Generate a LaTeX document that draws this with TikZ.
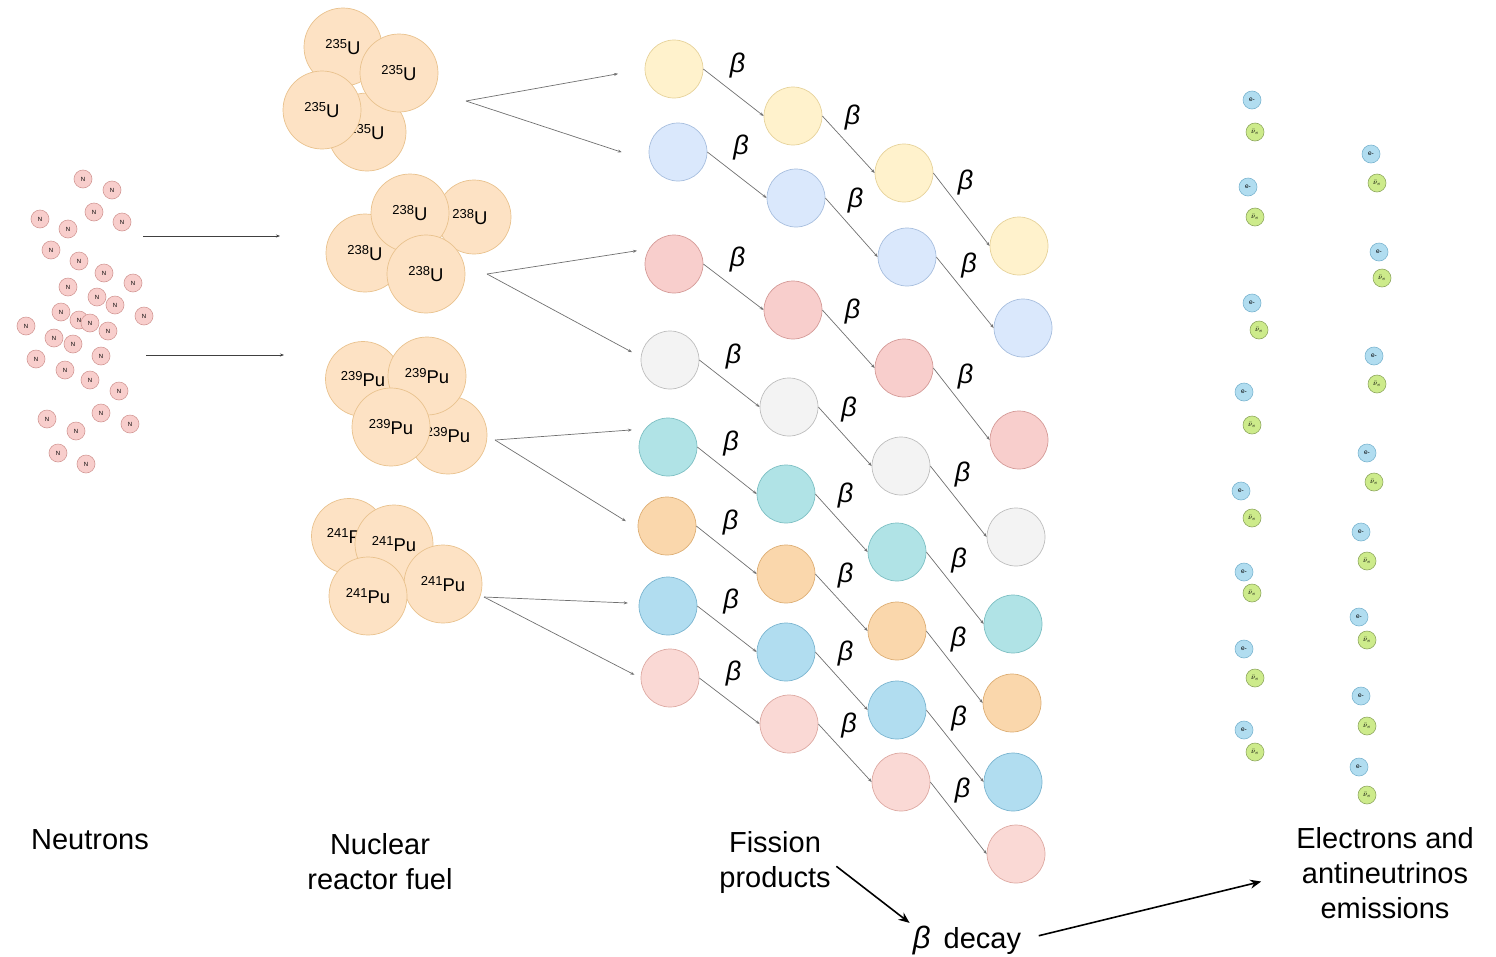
\documentclass[tikz,border=0pt]{standalone}
\usepackage{fontspec}
\setmainfont{Liberation Sans}
\usetikzlibrary{arrows.meta}

\definecolor{nfill}{HTML}{F8CECC}\definecolor{nedge}{HTML}{D49A97}
\definecolor{fuelfill}{HTML}{FDE2C4}\definecolor{fueledge}{HTML}{E9C28E}
\definecolor{yelfill}{HTML}{FFF2CC}\definecolor{yeledge}{HTML}{E6D29A}
\definecolor{lbfill}{HTML}{DAE8FC}\definecolor{lbedge}{HTML}{A7BEDE}
\definecolor{redfill}{HTML}{F8CECC}\definecolor{rededge}{HTML}{D49A97}
\definecolor{gryfill}{HTML}{F3F3F3}\definecolor{gryedge}{HTML}{BDBDBD}
\definecolor{tealfill}{HTML}{B0E3E6}\definecolor{tealedge}{HTML}{7DBFC3}
\definecolor{orgfill}{HTML}{FAD7AC}\definecolor{orgedge}{HTML}{DDAE74}
\definecolor{blufill}{HTML}{B1DDF0}\definecolor{bluedge}{HTML}{7BB5D0}
\definecolor{pnkfill}{HTML}{FAD9D5}\definecolor{pnkedge}{HTML}{DDA9A2}
\definecolor{efill}{HTML}{B1DDF0}\definecolor{eedge}{HTML}{7BB5D0}
\definecolor{afill}{HTML}{CDEB8B}\definecolor{aedge}{HTML}{8FA860}
\definecolor{linkgray}{HTML}{707070}

% mass number as a raised prefix
\newcommand\nuc[2]{{\fontsize{13}{13}\selectfont\raisebox{5.5pt}{#1}}#2}

\begin{document}
\begin{tikzpicture}[x=1pt,y=-1pt,
  neutron/.style={circle,minimum size=18pt,inner sep=0pt,fill=nfill,draw=nedge,line width=0.6pt,
    font=\fontsize{6}{6}\selectfont},
  fuel/.style={circle,minimum size=78pt,inner sep=0pt,fill=fuelfill,draw=fueledge,line width=0.7pt,
    font=\fontsize{18.5}{20}\selectfont},
  prod/.style={circle,minimum size=58pt,inner sep=0pt,line width=0.7pt,fill=#1fill,draw=#1edge},
  elec/.style={circle,minimum size=18pt,inner sep=0pt,fill=efill,draw=eedge,line width=0.6pt,
    font=\fontsize{6.5}{6.5}\selectfont},
  anu/.style={circle,minimum size=18pt,inner sep=0pt,fill=afill,draw=aedge,line width=0.6pt,
    font=\fontsize{7.5}{7.5}\selectfont},
  thinarrow/.style={draw=black!75,line width=0.6pt,-{Stealth[length=4pt,width=3pt]}},
  decayarrow/.style={draw=linkgray,line width=0.7pt,-{Stealth[length=4pt,width=3pt]}},
  betalbl/.style={font=\fontsize{27}{27}\selectfont\itshape,inner sep=0pt},
  caption/.style={font=\fontsize{29}{35}\selectfont,align=center,inner sep=0pt},
  bigarrow/.style={draw=black,line width=1.6pt,-{Stealth[length=11pt,width=9pt]}}
]
\useasboundingbox (0,0) rectangle (1496,956);

% ---------------- neutrons ----------------
\foreach \i/\x/\y in {1/83/179,2/112/190,3/94/212,4/122/222,5/40/219,6/68/229,7/51/250,8/79/261,
  9/104/273,10/133/283,11/68/287,12/97/297,13/115/305,14/144/316,15/61/312,16/79/320,17/90/323,
  18/108/331,19/26/326,20/54/338,21/73/344,22/101/356,23/36/359,24/65/370,25/90/380,26/119/391,
  27/101/413,28/47/419,29/76/431,30/130/424,31/58/453,32/86/464}
  \node[neutron] (n\i) at (\x,\y) {N};

\coordinate (nA) at (143,236); \coordinate (fA) at (280,236);
\coordinate (nB) at (146,355); \coordinate (fB) at (284,355);
\draw[thinarrow] (nA) -- (fA);
\draw[thinarrow] (nB) -- (fB);

% ---------------- reactor fuel ----------------
% U-235
\node[fuel] (u5d) at (367,132) {\nuc{235}{U}};
\node[fuel] (u5a) at (343,47) {\nuc{235}{U}};
\node[fuel] (u5b) at (399,73) {\nuc{235}{U}};
\node[fuel] (u5c) at (322,110) {\nuc{235}{U}};
% U-238
\node[fuel,minimum size=74pt] (u8b) at (474,217) {\hspace*{-8pt}\nuc{238}{U}};
\node[fuel] (u8c) at (365,253) {\nuc{238}{U}};
\node[fuel] (u8a) at (410,213) {\nuc{238}{U}};
\node[fuel] (u8d) at (426,274) {\nuc{238}{U}};
% Pu-239
\node[fuel] (p9d) at (448,435) {\nuc{239}{Pu}};
\node[fuel,minimum size=75pt] (p9a) at (363,379) {\nuc{239}{Pu}};
\node[fuel] (p9b) at (427,376) {\nuc{239}{Pu}};
\node[fuel] (p9c) at (391,427) {\nuc{239}{Pu}};
% Pu-241
\node[fuel,minimum size=75pt] (p1a) at (349,536) {\nuc{241}{Pu}};
\node[fuel] (p1b) at (394,544) {\nuc{241}{Pu}};
\node[fuel] (p1d) at (443,584) {\nuc{241}{Pu}};
\node[fuel] (p1c) at (368,596) {\nuc{241}{Pu}};

% ---------------- fission products ----------------
\foreach \r/\c/\x/\y in {1/yel/674/69,2/lb/678/152,3/red/674/264,4/gry/670/360,
  5/teal/668/447,6/org/667/526,7/blu/668/606,8/pnk/670/678}
  \node[prod=\c] (pa\r) at (\x,\y) {};
\foreach \r/\c/\x/\y in {1/yel/793/116,2/lb/796/198,3/red/793/310,4/gry/789/407,
  5/teal/786/494,6/org/786/574,7/blu/786/652,8/pnk/789/724}
  \node[prod=\c] (pb\r) at (\x,\y) {};
\foreach \r/\c/\x/\y in {1/yel/904/173,2/lb/907/257,3/red/904/368,4/gry/901/466,
  5/teal/897/552,6/org/897/631,7/blu/897/710,8/pnk/901/782}
  \node[prod=\c] (pc\r) at (\x,\y) {};
\foreach \r/\c/\x/\y in {1/yel/1019/246,2/lb/1023/328,3/red/1019/440,4/gry/1016/537,
  5/teal/1013/624,6/org/1012/703,7/blu/1013/782,8/pnk/1016/854}
  \node[prod=\c] (pd\r) at (\x,\y) {};

% beta-decay chains
\foreach \r in {1,...,8}{
  \foreach \a/\b in {a/b,b/c,c/d}{
    \draw[decayarrow] (p\a\r.east) -- node[betalbl,midway,xshift=4pt,yshift=27pt] {β} (p\b\r.west);
  }
}

% fission of the fuel into products
\coordinate (o235) at (466,101);
\coordinate (o238) at (487,274);
\coordinate (o239) at (495,440);
\coordinate (o241) at (484,597);
\draw[decayarrow,shorten >=27pt] (o235) -- (pa1.west);
\draw[decayarrow,shorten >=30pt] (o235) -- (pa2.199);
\draw[decayarrow,shorten >=12pt] (o238) -- (pa3.149);
\draw[decayarrow,shorten >=10pt] (o238) -- (pa4.174);
\draw[decayarrow,shorten >=13pt] (o239) -- (pa5.142);
\draw[decayarrow,shorten >=14pt] (o239) -- (pa6.185);
\draw[decayarrow,shorten >=11pt] (o241) -- (pa7.175);
\draw[decayarrow,shorten >=7pt] (o241) -- (pa8.west);

% ---------------- emitted electrons and antineutrinos ----------------
\foreach \i/\xe/\ye/\xn/\yn in {1/1252/100/1255/132,2/1248/187/1255/217,3/1252/303/1259/330,
  4/1244/392/1252/425,5/1241/491/1252/518,6/1244/572/1252/593,7/1244/649/1255/678,8/1244/730/1255/752,
  9/1371/154/1377/183,10/1379/252/1382/278,11/1374/356/1377/384,12/1367/453/1374/482,
  13/1361/532/1367/561,14/1359/617/1367/640,15/1361/696/1367/726,16/1359/767/1367/795}{
  \node[elec] (e\i) at (\xe,\ye) {e-};
  \node[anu] (v\i) at (\xn,\yn) {$\bar{\nu}_e$};
}

% ---------------- captions ----------------
\node[caption] (capn) at (90,840) {Neutrons};
\node[caption] (capf) at (380,862) {Nuclear\\reactor fuel};
\node[caption] (capp) at (775,862) {Fission\\products};
\node[caption,anchor=base] (capb) at (967,948) {{\fontsize{31}{31}\selectfont\itshape β}\hspace{13pt}decay};
\node[caption] (cape) at (1385,873) {Electrons and\\antineutrinos\\emissions};

\draw[bigarrow,shorten <=7pt,shorten >=4pt] (capp.east) -- (capb.north west);
\draw[bigarrow,shorten <=18pt,shorten >=36pt] (capb.east) -- (cape.west);
\end{tikzpicture}
\end{document}
